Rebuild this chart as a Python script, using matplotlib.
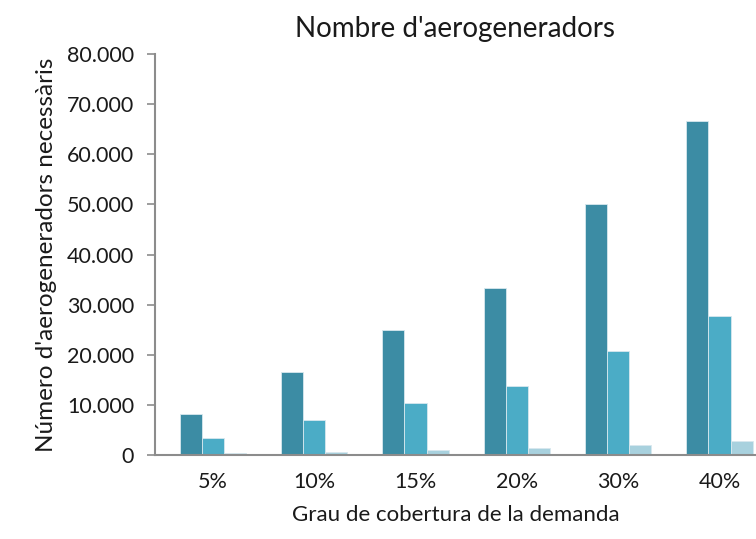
import numpy as np
import matplotlib.pyplot as plt
from matplotlib.ticker import FuncFormatter

plt.rcParams['font.family'] = ['Lato', 'DejaVu Sans']

categories = ["5%", "10%", "15%", "20%", "30%", "40%"]
serie_a = [8300, 16700, 25000, 33300, 50000, 66700]
serie_b = [3500, 7000, 10400, 13900, 20800, 27800]
serie_c = [400, 700, 1050, 1400, 2100, 2800]

colors = ["#3c8ca4", "#4bacc6", "#a8d1de"]

fig = plt.figure(figsize=(7.56, 5.39), dpi=100)
ax = fig.add_axes([0.205, 0.155, 0.795, 0.745])

x = np.arange(len(categories))
w = 0.218
for i, (vals, c) in enumerate(zip([serie_a, serie_b, serie_c], colors)):
    ax.bar(x + (i - 1) * w, vals, width=w, color=c, edgecolor="#d8e8ee", linewidth=0.6)

ax.set_xlim(-0.57, 5.36)
ax.set_ylim(0, 80000)
ax.set_yticks(np.arange(0, 80001, 10000))
ax.yaxis.set_major_formatter(FuncFormatter(lambda v, p: f"{int(v):,}".replace(",", ".")))
ax.set_xticks(x)
ax.set_xticklabels(categories)

for s in ["top", "right"]:
    ax.spines[s].set_visible(False)
for s in ["left", "bottom"]:
    ax.spines[s].set_color("#8c8c8c")
    ax.spines[s].set_linewidth(1.5)
ax.tick_params(axis="y", colors="#8c8c8c", labelcolor="#1a1a1a", length=6, width=1.2, labelsize=15.5, pad=9)
ax.tick_params(axis="x", length=0, labelsize=15.5, pad=12, labelcolor="#1a1a1a")

ax.set_title("Nombre d'aerogeneradors", fontsize=20, color="#1a1a1a", pad=12)
ax.set_xlabel("Grau de cobertura de la demanda", fontsize=16, color="#1a1a1a", labelpad=9)
ax.set_ylabel("Número d'aerogeneradors necessàris", fontsize=17.5, color="#1a1a1a", labelpad=7)

fig.savefig("out.png", dpi=100)
